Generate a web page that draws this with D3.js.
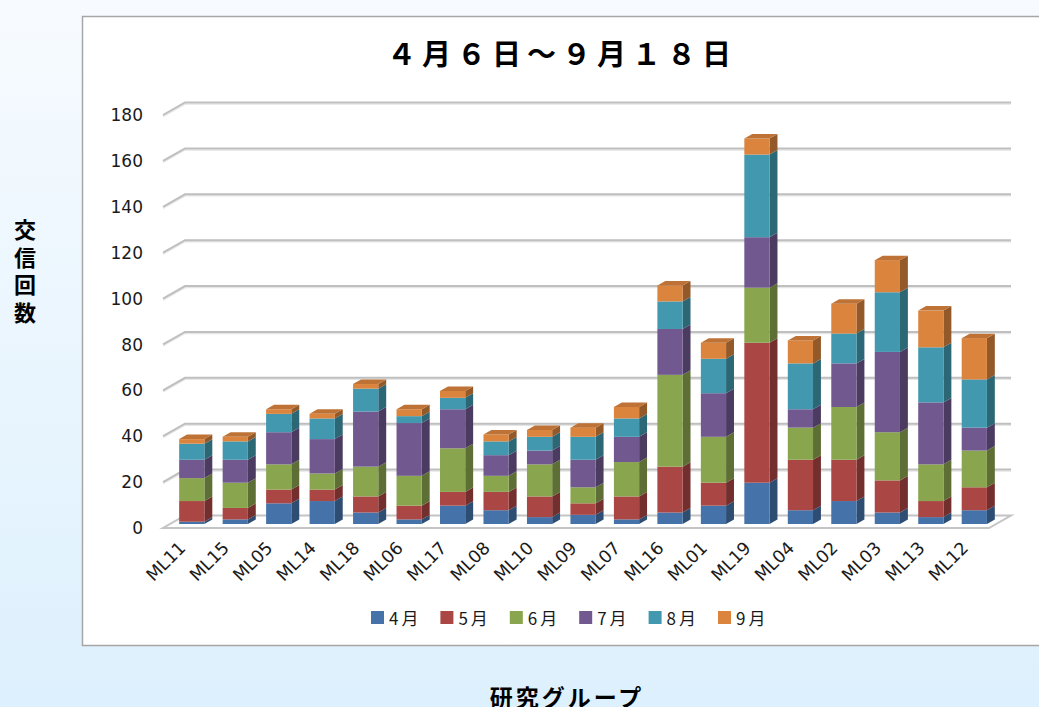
<!DOCTYPE html>
<html>
<head>
<meta charset="utf-8">
<script src="https://cdn.jsdelivr.net/npm/d3@7"></script>
<style>
  html, body { margin: 0; padding: 0; }
  body { width: 1039px; height: 707px; overflow: hidden; }
</style>
</head>
<body>
<div id="chart"></div>
<script>
// research groups (x categories)
const groups = ['ML11', 'ML15', 'ML05', 'ML14', 'ML18', 'ML06', 'ML17', 'ML08', 'ML10', 'ML09',
                'ML07', 'ML16', 'ML01', 'ML19', 'ML04', 'ML02', 'ML03', 'ML13', 'ML12'];

// monthly message counts per group
const apr = [1, 2, 9, 10, 5, 2, 8, 6, 3, 4, 2, 5, 8, 18, 6, 10, 5, 3, 6];
const may = [9, 5, 6, 5, 7, 6, 6, 8, 9, 5, 10, 20, 10, 61, 22, 18, 14, 7, 10];
const jun = [10, 11, 11, 7, 13, 13, 19, 7, 14, 7, 15, 40, 20, 24, 14, 23, 21, 16, 16];
const jul = [8, 10, 14, 15, 24, 23, 17, 9, 6, 12, 11, 20, 19, 22, 8, 19, 35, 27, 10];
const aug = [7, 8, 8, 9, 10, 3, 5, 6, 6, 10, 8, 12, 15, 36, 20, 13, 26, 24, 21];
const sep = [2, 2, 2, 2, 2, 3, 3, 3, 3, 4, 5, 7, 7, 7, 10, 13, 14, 16, 18];

const monthNames = ['4月', '5月', '6月', '7月', '8月', '9月'];
const yTicks = [0, 20, 40, 60, 80, 100, 120, 140, 160, 180];

const title = '４月６日～９月１８日';
const yTitle = '交信回数';
const xTitle = '研究グループ';

const colors = ['#4472a9', '#aa4643', '#89a54e', '#71588f', '#4198af', '#db843d'];

const W = 1039, H = 707;
const depth = { dx: 22, dy: -12.5 };   // full floor depth projection
const barFront = 0.32, barBack = 0.68; // bar depth inside the floor

const svg = d3.select('#chart').append('svg')
    .attr('width', W)
    .attr('height', H);

// background gradient
const defs = svg.append('defs');
const bg = defs.append('linearGradient')
    .attr('id', 'bg')
    .attr('x1', 0).attr('y1', 0).attr('x2', 0).attr('y2', 1);
bg.append('stop').attr('offset', '0%').attr('stop-color', '#f7fbff');
bg.append('stop').attr('offset', '100%').attr('stop-color', '#ddf0fd');

svg.append('rect')
    .attr('width', W).attr('height', H)
    .attr('fill', 'url(#bg)');

// chart area box
svg.append('rect')
    .attr('x', 82.5).attr('y', 16.5)
    .attr('width', 1000).attr('height', 629)
    .attr('fill', '#ffffff')
    .attr('stroke', '#a6a6a6')
    .attr('stroke-width', 1.5);

// title
svg.append('text')
    .attr('x', 562).attr('y', 65)
    .attr('text-anchor', 'middle')
    .attr('font-family', '"Noto Sans CJK JP", sans-serif')
    .attr('font-weight', 'bold')
    .attr('font-size', 29)
    .attr('letter-spacing', 6)
    .attr('fill', '#000')
    .text(title);

// scales (front plane)
const x = d3.scaleBand()
    .domain(groups)
    .range([163, 989])
    .paddingInner(0.42)
    .paddingOuter(0.21);

const y = d3.scaleLinear()
    .domain([0, 180])
    .range([528, 115]);

const P = (px, py, f) => [px + depth.dx * f, py + depth.dy * f];
const x0 = x.range()[0], x1 = x.range()[1];

// floor
const floorPts = [P(x0, y(0), 0), P(x1, y(0), 0), P(x1, y(0), 1), P(x0, y(0), 1)];
svg.append('polygon')
    .attr('points', floorPts.map(p => p.join(',')).join(' '))
    .attr('fill', '#ffffff')
    .attr('stroke', '#c4c4c4')
    .attr('stroke-width', 2);

// gridlines: short diagonal on the side wall then along the back wall
const grid = svg.append('g').attr('class', 'grid');
yTicks.filter(t => t > 0).forEach(t => {
    const a = P(x0, y(t), 0), b = P(x0, y(t), 1), c = P(x1, y(t), 1);
    const pts = [a, b, c].map(p => p.join(',')).join(' ');
    grid.append('polyline')
        .attr('points', [a, b, c].map(p => [p[0], p[1] + 1.5].join(',')).join(' '))
        .attr('fill', 'none')
        .attr('stroke', '#e6e6e6')
        .attr('stroke-width', 1.5);
    grid.append('polyline')
        .attr('points', pts)
        .attr('fill', 'none')
        .attr('stroke', '#bfbfbf')
        .attr('stroke-width', 2);
});

// y tick labels
svg.append('g')
    .selectAll('text')
    .data(yTicks)
    .join('text')
    .attr('x', 143)
    .attr('y', d => y(d))
    .attr('dy', '0.36em')
    .attr('text-anchor', 'end')
    .attr('font-family', '"DejaVu Sans", sans-serif')
    .attr('font-size', 17)
    .attr('fill', '#1a1a1a')
    .text(d => d);

// stacked 3D bars
const table = groups.map((g, i) => ({
    group: g,
    m0: apr[i], m1: may[i], m2: jun[i], m3: jul[i], m4: aug[i], m5: sep[i]
}));
const keys = ['m0', 'm1', 'm2', 'm3', 'm4', 'm5'];
const stacked = d3.stack().keys(keys)(table);

const bw = x.bandwidth();
const bars = svg.append('g').attr('class', 'bars');

groups.forEach((g, gi) => {
    const bar = bars.append('g');
    stacked.forEach((layer, li) => {
        const seg = layer[gi];
        if (seg[1] - seg[0] <= 0) return;
        const base = d3.color(colors[li]);
        const left = x(g);
        const [fx, fyTop] = P(left, y(seg[1]), barFront);
        const [, fyBot] = P(left, y(seg[0]), barFront);
        const ddx = depth.dx * (barBack - barFront);
        const ddy = depth.dy * (barBack - barFront);

        // side face
        bar.append('polygon')
            .attr('points', [
                [fx + bw, fyTop], [fx + bw + ddx, fyTop + ddy],
                [fx + bw + ddx, fyBot + ddy], [fx + bw, fyBot]
            ].map(p => p.join(',')).join(' '))
            .attr('fill', base.darker(1.1).formatHex());

        // front face
        bar.append('rect')
            .attr('x', fx).attr('y', fyTop)
            .attr('width', bw).attr('height', fyBot - fyTop)
            .attr('fill', base.formatHex());

        // top face only on the topmost segment
        if (li === stacked.length - 1) {
            bar.append('polygon')
                .attr('points', [
                    [fx, fyTop], [fx + bw, fyTop],
                    [fx + bw + ddx, fyTop + ddy], [fx + ddx, fyTop + ddy]
                ].map(p => p.join(',')).join(' '))
                .attr('fill', base.darker(0.4).formatHex());
        }
    });
});

// x labels, rotated
svg.append('g')
    .selectAll('text')
    .data(groups)
    .join('text')
    .attr('transform', d => `translate(${x(d) + bw / 2 + 2},${549}) rotate(-45)`)
    .attr('text-anchor', 'end')
    .attr('font-family', '"DejaVu Sans", sans-serif')
    .attr('font-size', 17.5)
    .attr('fill', '#1a1a1a')
    .text(d => d);

// legend
const legend = svg.append('g').attr('class', 'legend');
monthNames.forEach((m, i) => {
    const lx = 371 + i * 69.4;
    legend.append('rect')
        .attr('x', lx).attr('y', 611)
        .attr('width', 13).attr('height', 13)
        .attr('fill', colors[i]);
    legend.append('text')
        .attr('x', lx + 18).attr('y', 624.5)
        .attr('font-family', '"Noto Sans CJK JP", sans-serif')
        .attr('font-size', 17)
        .attr('letter-spacing', 3)
        .attr('fill', '#1a1a1a')
        .text(m);
});

// y axis title, written vertically
svg.append('text')
    .attr('x', 25).attr('y', 219)
    .attr('font-family', '"Noto Sans CJK JP", sans-serif')
    .attr('font-weight', 'bold')
    .attr('font-size', 22)
    .attr('letter-spacing', 5.5)
    .style('writing-mode', 'vertical-rl')
    .attr('fill', '#000')
    .text(yTitle);

// x axis title
svg.append('text')
    .attr('x', 567).attr('y', 706)
    .attr('text-anchor', 'middle')
    .attr('font-family', '"Noto Sans CJK JP", sans-serif')
    .attr('font-weight', 'bold')
    .attr('font-size', 23)
    .attr('letter-spacing', 3)
    .attr('fill', '#000')
    .text(xTitle);
</script>
</body>
</html>
